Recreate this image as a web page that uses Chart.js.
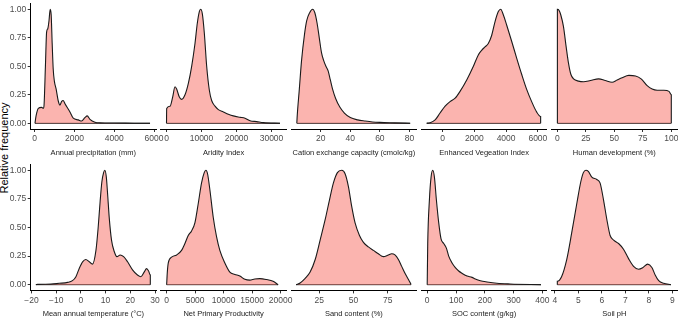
<!DOCTYPE html>
<html>
<head>
<meta charset="utf-8">
<script src="https://cdn.jsdelivr.net/npm/chart.js@4.4.1/dist/chart.umd.min.js"></script>
<style>
  html, body { margin: 0; padding: 0; background: #fff; }
  #wrap { position: relative; width: 678px; height: 319px; overflow: hidden; }
  #wrap canvas { position: absolute; }
  #ytitle {
    position: absolute; left: -56px; top: 142px; width: 120px; height: 12px;
    line-height: 12px; text-align: center; transform: rotate(-90deg);
    font: 11px "Liberation Sans", Arial, sans-serif; color: #000; white-space: nowrap;
  }
</style>
</head>
<body>
<div id="wrap"><div id="ytitle">Relative frequency</div></div>
<script>
// density curves (x value, relative frequency)
const precipX = [15, 65, 183, 350, 434, 467, 540, 600, 660, 720, 780, 830, 880, 930, 990, 1080, 1180, 1270, 1350, 1430, 1530, 1774, 1941, 2192, 2360, 2525, 2643, 2779, 3030, 3281, 4000, 5000, 5800];
const precipY = [0, 0.06, 0.13, 0.14, 0.13, 0.15, 0.5, 0.8, 0.83, 0.9, 1.0, 0.95, 0.7, 0.48, 0.37, 0.3, 0.2, 0.16, 0.19, 0.2, 0.17, 0.1, 0.045, 0.03, 0.02, 0.05, 0.065, 0.035, 0.01, 0.004, 0.002, 0.001, 0];

const aridX = [0, 50, 1000, 1760, 2430, 2900, 3670, 4330, 5290, 6240, 7190, 8140, 8810, 9380, 9760, 10240, 10810, 11480, 12240, 12900, 13860, 14810, 16240, 17670, 19100, 21000, 22430, 23860, 25760, 27670, 32430];
const aridY = [0, 0.13, 0.15, 0.23, 0.32, 0.3, 0.23, 0.21, 0.25, 0.35, 0.5, 0.7, 0.88, 0.98, 1.0, 0.96, 0.79, 0.5, 0.29, 0.2, 0.15, 0.12, 0.1, 0.08, 0.065, 0.053, 0.045, 0.023, 0.015, 0.006, 0];

const cecX = [3.8, 4.0, 5.5, 7, 9, 10.5, 12.5, 14.5, 16, 17.5, 19, 20.5, 22, 23.5, 25, 26.5, 28, 30, 33, 36, 40, 45, 50, 55, 60, 70, 80.5];
const cecY = [0, 0.05, 0.3, 0.55, 0.78, 0.9, 0.97, 1.0, 0.97, 0.88, 0.75, 0.62, 0.55, 0.5, 0.46, 0.38, 0.3, 0.22, 0.14, 0.09, 0.05, 0.03, 0.02, 0.012, 0.008, 0.004, 0];

const eviX = [-1000, -790, -470, -160, 160, 470, 790, 1100, 1520, 1940, 2250, 2460, 2670, 2880, 3090, 3300, 3510, 3660, 3830, 4040, 4350, 4670, 4980, 5290, 5610, 5920, 6175, 6175];
const eviY = [0, 0.005, 0.03, 0.09, 0.15, 0.19, 0.22, 0.28, 0.38, 0.5, 0.6, 0.64, 0.67, 0.7, 0.77, 0.89, 0.98, 1.0, 0.95, 0.86, 0.72, 0.57, 0.43, 0.3, 0.19, 0.1, 0.06, 0];

const hdiX = [0, 0, 1.5, 3, 5.3, 7.7, 9.7, 11.8, 14.2, 18.6, 23, 29, 36.2, 42, 48, 52.4, 56.8, 62.7, 68.6, 73.5, 78.8, 83.2, 87.6, 93.5, 98, 100, 100];
const hdiY = [0, 1.0, 0.99, 0.95, 0.85, 0.67, 0.53, 0.43, 0.39, 0.37, 0.365, 0.375, 0.39, 0.375, 0.36, 0.38, 0.4, 0.42, 0.415, 0.39, 0.33, 0.3, 0.29, 0.29, 0.28, 0.25, 0];

const tempX = [-18.2, -17.5, -12.1, -8.8, -5.4, -3.4, -2.0, -0.7, 0.7, 2.0, 3.4, 4.7, 6.1, 7.0, 7.8, 8.5, 9.2, 9.7, 10.3, 10.8, 11.5, 12.4, 13.5, 14.6, 15.9, 17.3, 18.9, 20.9, 22.9, 24.3, 25.6, 26.6, 27.4, 28.1, 28.1];
const tempY = [0, 0.003, 0.005, 0.012, 0.02, 0.035, 0.07, 0.14, 0.2, 0.22, 0.2, 0.18, 0.3, 0.5, 0.73, 0.9, 0.98, 1.0, 0.94, 0.8, 0.58, 0.39, 0.29, 0.245, 0.26, 0.245, 0.2, 0.13, 0.085, 0.07, 0.11, 0.14, 0.12, 0.085, 0];

const nppX = [0, 120, 290, 870, 1750, 2620, 3210, 3790, 4380, 4960, 5550, 6130, 6600, 6890, 7180, 7590, 8180, 8760, 9340, 10220, 11100, 11970, 12850, 13730, 14600, 15480, 16360, 17530, 18690, 19570];
const nppY = [0, 0.11, 0.19, 0.24, 0.26, 0.3, 0.36, 0.43, 0.47, 0.54, 0.71, 0.89, 0.98, 1.0, 0.97, 0.83, 0.59, 0.42, 0.3, 0.19, 0.11, 0.09, 0.075, 0.047, 0.04, 0.05, 0.053, 0.045, 0.03, 0];

const sandX = [8.2, 11.1, 14.8, 18.4, 22.1, 25.7, 29.4, 32.5, 35.4, 38.3, 41.5, 43.9, 46.3, 48.8, 51.2, 54.4, 57.3, 60.9, 64.6, 68.2, 71.8, 75.5, 77.9, 80.3, 82.8, 85.2, 87.6, 90, 91.7, 92];
const sandY = [0, 0.015, 0.055, 0.11, 0.22, 0.39, 0.57, 0.74, 0.89, 0.98, 1.0, 0.97, 0.86, 0.68, 0.54, 0.43, 0.37, 0.33, 0.3, 0.27, 0.245, 0.26, 0.27, 0.26, 0.22, 0.16, 0.1, 0.047, 0.01, 0];

const socX = [0, 1.8, 7.6, 13.4, 19.2, 25, 31.9, 40, 48, 57.3, 66.5, 74.6, 86.2, 97.7, 109.3, 120.8, 138.2, 155.5, 167, 184.4, 207.5, 242, 288, 395];
const socY = [0, 0.36, 0.74, 0.94, 1.0, 0.94, 0.74, 0.54, 0.4, 0.36, 0.32, 0.25, 0.19, 0.15, 0.12, 0.1, 0.075, 0.064, 0.05, 0.035, 0.024, 0.012, 0.006, 0];

const phX = [4.1, 4.1, 4.28, 4.5, 4.71, 4.93, 5.1, 5.21, 5.32, 5.42, 5.57, 5.78, 5.92, 6.07, 6.21, 6.35, 6.5, 6.71, 6.92, 7.13, 7.35, 7.56, 7.75, 7.95, 8.13, 8.27, 8.42, 8.63, 8.94];
const phY = [0, 0.03, 0.07, 0.22, 0.45, 0.71, 0.9, 0.98, 1.0, 0.99, 0.94, 0.92, 0.89, 0.74, 0.57, 0.43, 0.39, 0.36, 0.31, 0.23, 0.16, 0.135, 0.15, 0.18, 0.15, 0.085, 0.035, 0.012, 0];

// tick labels
const precipTicks = [0, 2000, 4000, 6000];
const aridTicks = [0, 10000, 20000, 30000];
const cecTicks = [20, 40, 60, 80];
const eviTicks = [0, 2000, 4000, 6000];
const hdiTicks = [0, 25, 50, 75, 100];
const tempTicks = [-20, -10, 0, 10, 20, 30];
const nppTicks = [0, 5000, 10000, 15000, 20000];
const sandTicks = [25, 50, 75];
const socTicks = [0, 100, 200, 300, 400];
const phTicks = [4, 5, 6, 7, 8, 9];
const freqTicks = [0, 0.25, 0.5, 0.75, 1];

const panels = [
  { title: 'Annual precipitation (mm)', xs: precipX, ys: precipY, ticks: precipTicks, min: -200, max: 6100 },
  { title: 'Aridity Index', xs: aridX, ys: aridY, ticks: aridTicks, min: -1586, max: 34214 },
  { title: 'Cation exchange capacity (cmolc/kg)', xs: cecX, ys: cecY, ticks: cecTicks, min: 0, max: 84.8 },
  { title: 'Enhanced Vegeation Index', xs: eviX, ys: eviY, ticks: eviTicks, min: -1330, max: 6560 },
  { title: 'Human development (%)', xs: hdiX, ys: hdiY, ticks: hdiTicks, min: -5, max: 105 },
  { title: 'Mean annual temperature (°C)', xs: tempX, ys: tempY, ticks: tempTicks, min: -20.3, max: 30.4 },
  { title: 'Net Primary Productivity', xs: nppX, ys: nppY, ticks: nppTicks, min: -1000, max: 21000 },
  { title: 'Sand content (%)', xs: sandX, ys: sandY, ticks: sandTicks, min: 4.6, max: 96 },
  { title: 'SOC content (g/kg)', xs: socX, ys: socY, ticks: socTicks, min: -20, max: 415 },
  { title: 'Soil pH', xs: phX, ys: phY, ticks: phTicks, min: 3.86, max: 9.2 }
];

const FONT = '"Liberation Sans", Arial, sans-serif';
const panelW = 125.3;
const rowTop = [3.6, 164.6];
const rowBottom = [129, 290.4];
const XH = 28;   // height of x axis block (ticks + labels + title)
const YW = 30;   // width of y axis block on the first column

const fmtX = v => (v < 0 ? '\u2212' + Math.abs(v) : String(v));

const wrap = document.getElementById('wrap');

panels.forEach((p, i) => {
  const row = Math.floor(i / 5);
  const col = i % 5;
  const L = 30.7 + 130.25 * col;
  const T = rowTop[row];
  const B = rowBottom[row];
  const cLeft = Math.floor(L) - 40;
  const cTop = Math.floor(T) - 4;
  const cW = Math.ceil(panelW + 40 + 22);
  const cH = Math.ceil(B - cTop + XH + 2);
  const showY = col === 0;
  const yW = showY ? YW : 0;

  const canvas = document.createElement('canvas');
  canvas.width = cW;
  canvas.height = cH;
  canvas.style.left = cLeft + 'px';
  canvas.style.top = cTop + 'px';
  canvas.style.width = cW + 'px';
  canvas.style.height = cH + 'px';
  wrap.appendChild(canvas);

  const padLeft = L - cLeft - yW;
  const padRight = cW - (L - cLeft) - panelW;
  const padTop = T - cTop;
  const padBottom = cH - (B - cTop) - XH;

  const curve = p.xs.map((x, k) => ({ x: x, y: p.ys[k] }));
  const base = [{ x: p.xs[0], y: 0 }, { x: p.xs[p.xs.length - 1], y: 0 }];

  new Chart(canvas, {
    type: 'line',
    data: {
      datasets: [
        {
          data: curve,
          borderColor: '#1a1a1a',
          borderWidth: 1.1,
          backgroundColor: 'rgba(248,118,109,0.55)',
          fill: 'origin',
          pointRadius: 0,
          cubicInterpolationMode: 'monotone'
        },
        {
          data: base,
          borderColor: '#1a1a1a',
          borderWidth: 1,
          fill: false,
          pointRadius: 0
        }
      ]
    },
    options: {
      responsive: false,
      animation: false,
      events: [],
      layout: { padding: { left: padLeft, right: padRight, top: padTop, bottom: padBottom } },
      plugins: { legend: { display: false }, tooltip: { enabled: false } },
      scales: {
        x: {
          type: 'linear',
          min: p.min,
          max: p.max,
          afterBuildTicks: s => { s.ticks = p.ticks.map(v => ({ value: v })); },
          afterFit: s => {
            s.height = XH;
            s.paddingLeft = 0; s.paddingRight = 0; s.paddingTop = 0; s.paddingBottom = 0;
          },
          grid: { display: true, drawOnChartArea: false, drawTicks: true, tickLength: 3, tickColor: '#333', tickWidth: 1 },
          border: { display: true, color: '#000', width: 1 },
          ticks: {
            autoSkip: false, maxRotation: 0, minRotation: 0, padding: 2,
            color: '#4d4d4d', font: { family: FONT, size: 8.5 },
            callback: v => fmtX(v)
          },
          title: {
            display: true, text: p.title, color: '#222',
            font: { family: FONT, size: 7.5 }, padding: { top: 0, bottom: 0 }
          }
        },
        y: {
          type: 'linear',
          display: showY,
          min: -0.05,
          max: 1.05,
          afterBuildTicks: s => { s.ticks = freqTicks.map(v => ({ value: v })); },
          afterFit: s => {
            s.width = yW;
            s.paddingLeft = 0; s.paddingRight = 0; s.paddingTop = 0; s.paddingBottom = 0;
          },
          grid: { display: true, drawOnChartArea: false, drawTicks: true, tickLength: 3, tickColor: '#333', tickWidth: 1 },
          border: { display: true, color: '#000', width: 1 },
          ticks: {
            autoSkip: false, padding: 1.5,
            color: '#4d4d4d', font: { family: FONT, size: 8.5 },
            callback: v => v.toFixed(2)
          }
        }
      }
    }
  });
});
</script>
</body>
</html>
